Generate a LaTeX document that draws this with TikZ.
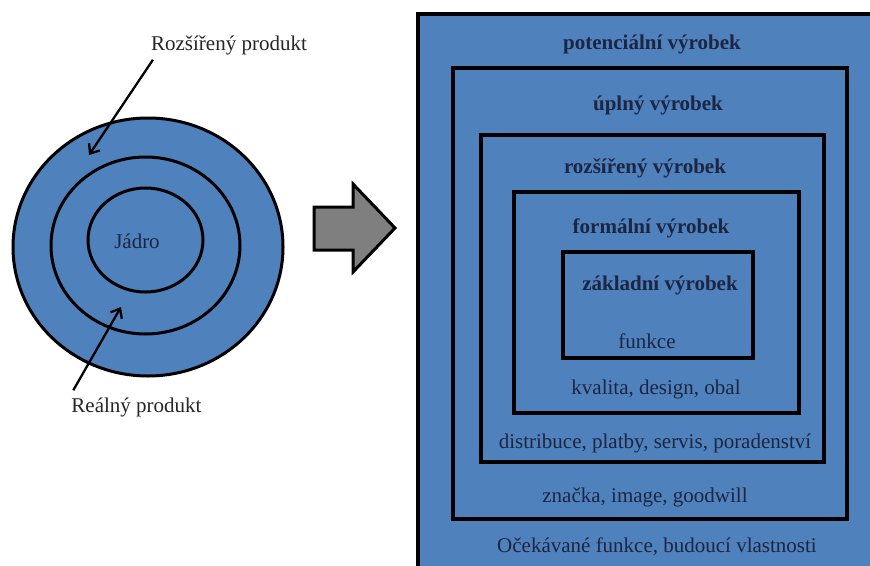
\documentclass[tikz,border=0pt]{standalone}
\usepackage{fontspec}
\setmainfont{Liberation Serif}
\usetikzlibrary{shapes.geometric,arrows.meta}
\definecolor{ringblue}{HTML}{4F81BD}
\definecolor{inktext}{HTML}{1C2541}
\definecolor{labelgray}{HTML}{262626}
\definecolor{arrowgray}{HTML}{7F7F7F}
\begin{document}
\begin{tikzpicture}[x=1pt,y=-1pt,
  ring/.style={ellipse, draw=black, line width=3pt, fill=ringblue, inner sep=0pt},
  layer/.style={rectangle, draw=black, line width=3.5pt, fill=ringblue, inner sep=0pt},
  lbl/.style={font=\fontsize{21}{25}\selectfont, text=inktext, inner sep=0pt},
  head/.style={lbl, font=\fontsize{21}{25}\selectfont\bfseries},
  outlbl/.style={lbl, text=labelgray},
  pointer/.style={line width=2.3pt, draw=black,
    -{Straight Barb[length=8pt,width=13pt,line width=2.3pt]}}
]
\useasboundingbox (0,0) rectangle (870,565);
\clip (0,0) rectangle (870,565);
\fill[white] (0,0) rectangle (870,565);

% concentric product rings
\node[ring, minimum width=270pt, minimum height=258pt] (outer) at (148,247) {};
\node[ring, minimum width=189pt, minimum height=177pt] (middle) at (145.5,245.5) {};
\node[ring, minimum width=115pt, minimum height=104pt] (core) at (145.5,240) {};
\node[lbl] (jadro) at (137,241) {Jádro};

% ring labels with pointers
\node[outlbl] (lblR) at (229,45) {Rozšířený produkt};
\node[outlbl] (lblReal) at (136.5,407) {Reálný produkt};
\coordinate (tipR) at (89,155);
\coordinate (tipReal) at (121,307);
\draw[pointer] ([xshift=2pt,yshift=-5pt]lblR.south west) -- (tipR);
\draw[pointer] ([xshift=2pt,yshift=7pt]lblReal.north west) -- (tipReal);

% block arrow between the two models
\draw[line width=3pt, fill=arrowgray, line join=miter]
  (314,207) -- (353,207) -- (353,184) -- (395,228) -- (353,272)
  -- (353,250) -- (314,250) -- cycle;

% nested product levels
\node[layer, minimum width=500pt, minimum height=600pt] (potential) at (668,314) {};
\node[layer, minimum width=394pt, minimum height=451pt] (complete) at (650,293.5) {};
\node[layer, minimum width=343pt, minimum height=327pt] (extended) at (652.5,298.5) {};
\node[layer, minimum width=285pt, minimum height=221pt] (formal) at (656.5,302.5) {};
\node[layer, minimum width=190pt, minimum height=106pt] (basic) at (658,305) {};

\node[head] (tPot) at (652,44) {potenciální výrobek};
\node[head] (tFull) at (658,105) {úplný výrobek};
\node[head] (tExt) at (645,168) {rozšířený výrobek};
\node[head] (tForm) at (651,228) {formální výrobek};
\node[head] (tBasic) at (660,285) {základní výrobek};
\node[lbl] (dBasic) at (647,341) {funkce};
\node[lbl] (dForm) at (656,389) {kvalita, design, obal};
\node[lbl] (dExt) at (655,443) {distribuce, platby, servis, poradenství};
\node[lbl] (dFull) at (645,497) {značka, image, goodwill};
\node[lbl] (dPot) at (657,547) {Očekávané funkce, budoucí vlastnosti};
\end{tikzpicture}
\end{document}
